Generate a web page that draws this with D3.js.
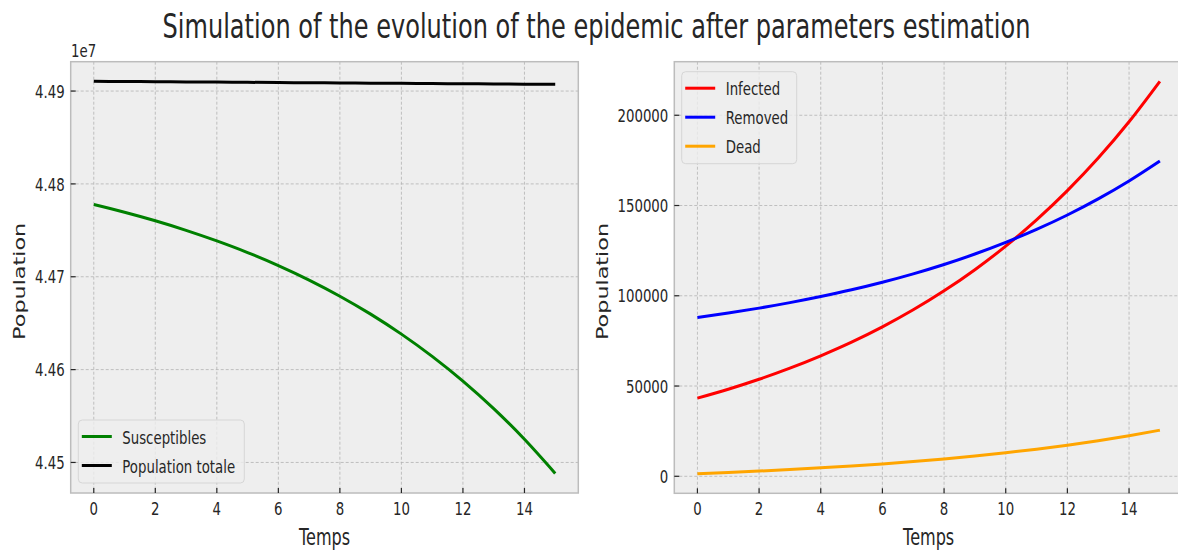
<!DOCTYPE html>
<html>
<head>
<meta charset="utf-8">
<script src="https://cdn.jsdelivr.net/npm/d3@7"></script>
<style>
  body { margin: 0; background: #fff; }
  text { font-family: "DejaVu Sans", sans-serif; fill: #262626; }
</style>
</head>
<body>
<div id="chart"></div>
<script>
(function() {
  var width = 1178,
    height = 552;

  // values, one point per day
  var days = [0, 1, 2, 3, 4, 5, 6, 7, 8, 9, 10, 11, 12, 13, 14, 15];
  var susceptibles = [44777756, 44769485, 44760282, 44750019, 44738634, 44726088, 44712049, 44696434,
    44679059, 44659729, 44638217, 44614276, 44587629, 44557973, 44524972, 44488219];
  var populationTotale = [44910500, 44910280, 44910060, 44909840, 44909620, 44909400, 44909180, 44908960,
    44908740, 44908520, 44908300, 44908080, 44907860, 44907640, 44907420, 44907200];
  var infected = [43300, 48236, 53744, 59901, 66747, 74303, 82777, 92216,
    102734, 114451, 127506, 142050, 158253, 176300, 196400, 218799];
  var removed = [88000, 90437, 93155, 96195, 99574, 103305, 107486, 112145,
    117337, 123120, 129564, 136743, 144741, 153650, 163570, 174626];
  var dead = [1444, 2122, 2879, 3725, 4665, 5704, 6868, 8165,
    9610, 11220, 13013, 15011, 17237, 19717, 22478, 25556];

  var xTicks = [0, 2, 4, 6, 8, 10, 12, 14];
  var leftYTicks = [44500000, 44600000, 44700000, 44800000, 44900000];
  var rightYTicks = [0, 50000, 100000, 150000, 200000];

  var squeeze = 0.72; // the original figure was squashed horizontally

  var svg = d3.select('#chart')
    .append("svg")
    .attr("width", width)
    .attr("height", height);

  function addText(parent, x, y, str, size, anchor, rotate) {
    return parent.append("text")
      .attr("transform", "translate(" + x + "," + y + ") scale(" + squeeze + ",1)" + (rotate ? " rotate(-90)" : ""))
      .attr("text-anchor", anchor || "start")
      .style("font-size", size + "px")
      .text(str);
  }

  // matplotlib style 5% margins
  function padded(lo, hi) {
    var m = (hi - lo) * 0.05;
    return [lo - m, hi + m];
  }

  function panel(opts) {
    var g = svg.append("g");
    var x = d3.scaleLinear().domain(padded(0, 15)).range([opts.left, opts.right]);
    var all = [];
    opts.series.forEach(function(s) { all = all.concat(s.values); });
    var y = d3.scaleLinear().domain(padded(d3.min(all), d3.max(all))).range([opts.bottom, opts.top]);

    g.append("rect")
      .attr("x", opts.left).attr("y", opts.top)
      .attr("width", opts.right - opts.left).attr("height", opts.bottom - opts.top)
      .attr("fill", "#eeeeee");

    // grid
    g.selectAll(".vgrid").data(xTicks).enter().append("line")
      .attr("x1", function(d) { return x(d); }).attr("x2", function(d) { return x(d); })
      .attr("y1", opts.top).attr("y2", opts.bottom)
      .attr("stroke", "#b2b2b2").attr("stroke-width", 0.8).attr("stroke-dasharray", "3,2");
    g.selectAll(".hgrid").data(opts.yTicks).enter().append("line")
      .attr("y1", function(d) { return y(d); }).attr("y2", function(d) { return y(d); })
      .attr("x1", opts.left).attr("x2", opts.right)
      .attr("stroke", "#b2b2b2").attr("stroke-width", 0.8).attr("stroke-dasharray", "3,2");

    // lines
    var line = d3.line()
      .x(function(d, i) { return x(days[i]); })
      .y(function(d) { return y(d); })
      .curve(d3.curveMonotoneX);
    opts.series.forEach(function(s) {
      g.append("path")
        .attr("d", line(s.values))
        .attr("fill", "none")
        .attr("stroke", s.color)
        .attr("stroke-width", 3);
    });

    // frame
    g.append("rect")
      .attr("x", opts.left).attr("y", opts.top)
      .attr("width", opts.right - opts.left).attr("height", opts.bottom - opts.top)
      .attr("fill", "none").attr("stroke", "#bcbcbc").attr("stroke-width", 1.5);

    // ticks point inwards
    g.selectAll(".xtick").data(xTicks).enter().append("line")
      .attr("x1", function(d) { return x(d); }).attr("x2", function(d) { return x(d); })
      .attr("y1", opts.bottom).attr("y2", opts.bottom - 5)
      .attr("stroke", "#262626").attr("stroke-width", 1.2);
    g.selectAll(".ytick").data(opts.yTicks).enter().append("line")
      .attr("y1", function(d) { return y(d); }).attr("y2", function(d) { return y(d); })
      .attr("x1", opts.left).attr("x2", opts.left + 5)
      .attr("stroke", "#262626").attr("stroke-width", 1.2);

    xTicks.forEach(function(d) {
      addText(g, x(d), opts.bottom + 22, d, 18.5, "middle");
    });
    opts.yTicks.forEach(function(d) {
      addText(g, opts.left - 6, y(d) + 6.7, opts.yFormat(d), 18.5, "end");
    });

    addText(g, (opts.left + opts.right) / 2, 544.5, "Temps", 22.3, "middle");
    addText(g, opts.yLabelX, (opts.top + opts.bottom) / 2 + 4, "Population", 22.3, "middle", true);

    // legend
    var lg = opts.legend;
    g.append("rect")
      .attr("x", lg.x).attr("y", lg.y)
      .attr("width", lg.w).attr("height", opts.series.length * 29 + 5)
      .attr("rx", 4)
      .attr("fill", "#eeeeee").attr("fill-opacity", 0.8)
      .attr("stroke", "#d6d6d6");
    opts.series.forEach(function(s, i) {
      var cy = lg.y + 16.5 + i * 29;
      g.append("line")
        .attr("x1", lg.x + 3.5).attr("x2", lg.x + 33.5)
        .attr("y1", cy).attr("y2", cy)
        .attr("stroke", s.color).attr("stroke-width", 3);
      addText(g, lg.x + 44, cy + 7, s.name, 18.5, "start");
    });
  }

  panel({
    left: 70.7, right: 578.3, top: 61.7, bottom: 493,
    series: [
      { name: "Susceptibles", values: susceptibles, color: "green" },
      { name: "Population totale", values: populationTotale, color: "black" }
    ],
    yTicks: leftYTicks,
    yFormat: function(d) { return (d / 1e7).toFixed(2); },
    yLabelX: 25,
    legend: { x: 78.3, y: 420, w: 166 }
  });

  panel({
    left: 674.3, right: 1183, top: 61.7, bottom: 493.3,
    series: [
      { name: "Infected", values: infected, color: "red" },
      { name: "Removed", values: removed, color: "blue" },
      { name: "Dead", values: dead, color: "orange" }
    ],
    yTicks: rightYTicks,
    yFormat: function(d) { return d; },
    yLabelX: 608,
    legend: { x: 681.7, y: 71.7, w: 115 }
  });

  // offset label of the left y axis
  addText(svg, 71, 56.7, "1e7", 18.5, "start");

  addText(svg, 596.5, 37.5, "Simulation of the evolution of the epidemic after parameters estimation", 33.4, "middle");
})();
</script>
</body>
</html>
